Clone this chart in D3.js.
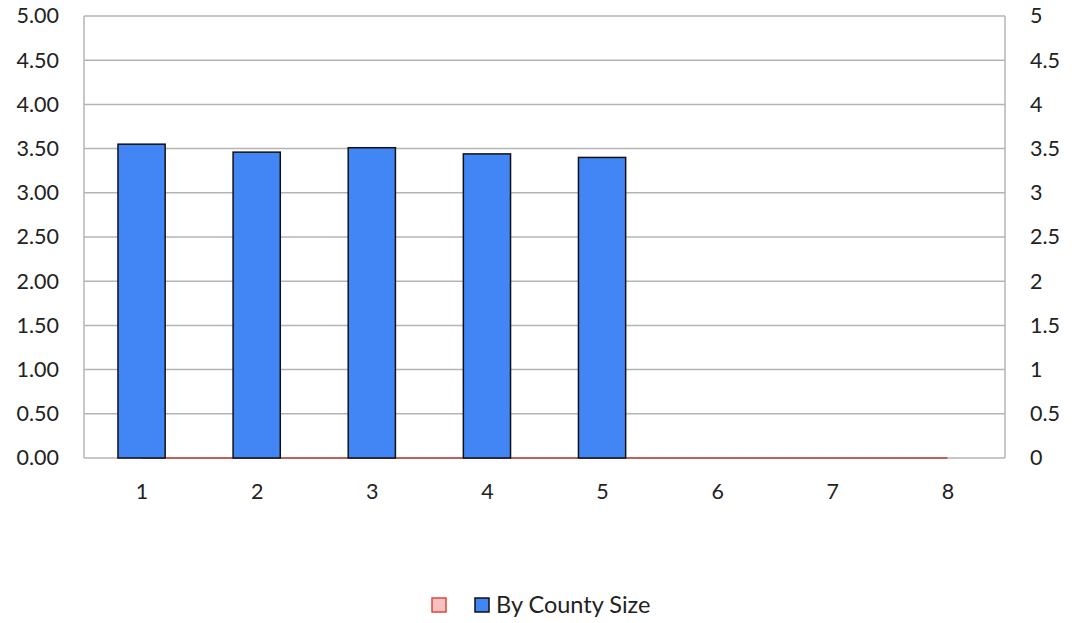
<!DOCTYPE html>
<html>
<head>
<meta charset="utf-8">
<script src="https://cdn.jsdelivr.net/npm/d3@7"></script>
<style>
  body { margin: 0; background: #fff; }
  svg { display: block; font-family: Lato, "Open Sans", sans-serif; }
</style>
</head>
<body>
<svg id="chart" width="1072" height="623"></svg>
<script>
// Categories along the bottom axis
const categories = ["1", "2", "3", "4", "5", "6", "7", "8"];
// Bar series: average score by county size
const countySizeValues = [3.55, 3.46, 3.51, 3.44, 3.40, null, null, null];
// Companion line series (secondary axis), flat at zero
const lineValues = [0, 0, 0, 0, 0, 0, 0, 0];
// Axis tick values
const leftTicks = [0, 0.5, 1, 1.5, 2, 2.5, 3, 3.5, 4, 4.5, 5];
const rightTicks = [0, 0.5, 1, 1.5, 2, 2.5, 3, 3.5, 4, 4.5, 5];
const seriesName = "By County Size";

const svg = d3.select("#chart");
const m = { left: 84, right: 1005, top: 16, bottom: 458 };
const font = "Lato, 'Open Sans', sans-serif";

const x = d3.scaleBand().domain(categories).range([m.left, m.right]).paddingInner(0.59).paddingOuter(0.295);
const xc = d3.scalePoint().domain(categories).range([m.left, m.right]).padding(0.5);
const y = d3.scaleLinear().domain([0, 5]).range([m.bottom, m.top]);
const y2 = d3.scaleLinear().domain([0, 5]).range([m.bottom, m.top]);

const gridColor = "#b4b4b4";

// Horizontal gridlines
svg.append("g").selectAll("line").data(leftTicks).join("line")
  .attr("x1", m.left).attr("x2", m.right)
  .attr("y1", d => y(d)).attr("y2", d => y(d))
  .attr("stroke", gridColor).attr("stroke-width", 1.5);

// Plot frame sides
svg.append("line").attr("x1", m.left).attr("x2", m.left).attr("y1", m.top).attr("y2", m.bottom)
  .attr("stroke", gridColor).attr("stroke-width", 1.5);
svg.append("line").attr("x1", m.right).attr("x2", m.right).attr("y1", m.top).attr("y2", m.bottom)
  .attr("stroke", gridColor).attr("stroke-width", 1.5);

// Flat line series, drawn beneath the bars
svg.append("path")
  .datum(lineValues)
  .attr("fill", "none")
  .attr("stroke", "#c0605a")
  .attr("stroke-width", 2)
  .attr("d", d3.line().x((d, i) => xc(categories[i])).y(d => y2(d)));

// Bars
svg.append("g").selectAll("rect")
  .data(categories.map((c, i) => ({ c, v: countySizeValues[i] })).filter(d => d.v != null))
  .join("rect")
  .attr("x", d => x(d.c))
  .attr("width", x.bandwidth())
  .attr("y", d => y(d.v))
  .attr("height", d => y(0) - y(d.v))
  .attr("fill", "#4285f4")
  .attr("stroke", "#111")
  .attr("stroke-width", 1.5);

// Left axis labels
const axisLeft = d3.axisLeft(y).tickValues(leftTicks).tickFormat(d3.format(".2f")).tickSize(0).tickPadding(25);
const gl = svg.append("g").attr("transform", `translate(${m.left},0)`).call(axisLeft);
gl.select(".domain").remove();
gl.selectAll("text").attr("font-size", 21.5).attr("fill", "#222").attr("font-family", font);

// Right axis labels
const axisRight = d3.axisRight(y2).tickValues(rightTicks).tickFormat(d3.format("")).tickSize(0).tickPadding(25);
const gr = svg.append("g").attr("transform", `translate(${m.right},0)`).call(axisRight);
gr.select(".domain").remove();
gr.selectAll("text").attr("font-size", 21.5).attr("fill", "#222").attr("font-family", font);

// Category labels
const axisBottom = d3.axisBottom(xc).tickSize(0).tickPadding(26);
const gb = svg.append("g").attr("transform", `translate(0,${m.bottom})`).call(axisBottom);
gb.select(".domain").remove();
gb.selectAll("text").attr("font-size", 21.5).attr("fill", "#222").attr("font-family", font);

// Legend
const lg = svg.append("g");
lg.append("rect").attr("x", 432).attr("y", 598).attr("width", 14).attr("height", 14)
  .attr("fill", "#f4c2c0").attr("stroke", "#e0453a").attr("stroke-width", 1.5);
lg.append("rect").attr("x", 475).attr("y", 598).attr("width", 14).attr("height", 14)
  .attr("fill", "#4285f4").attr("stroke", "#111").attr("stroke-width", 1.5);
lg.append("text").attr("x", 496).attr("y", 613).attr("font-size", 23.5).attr("fill", "#222")
  .attr("font-family", font).text(seriesName);
</script>
</body>
</html>
